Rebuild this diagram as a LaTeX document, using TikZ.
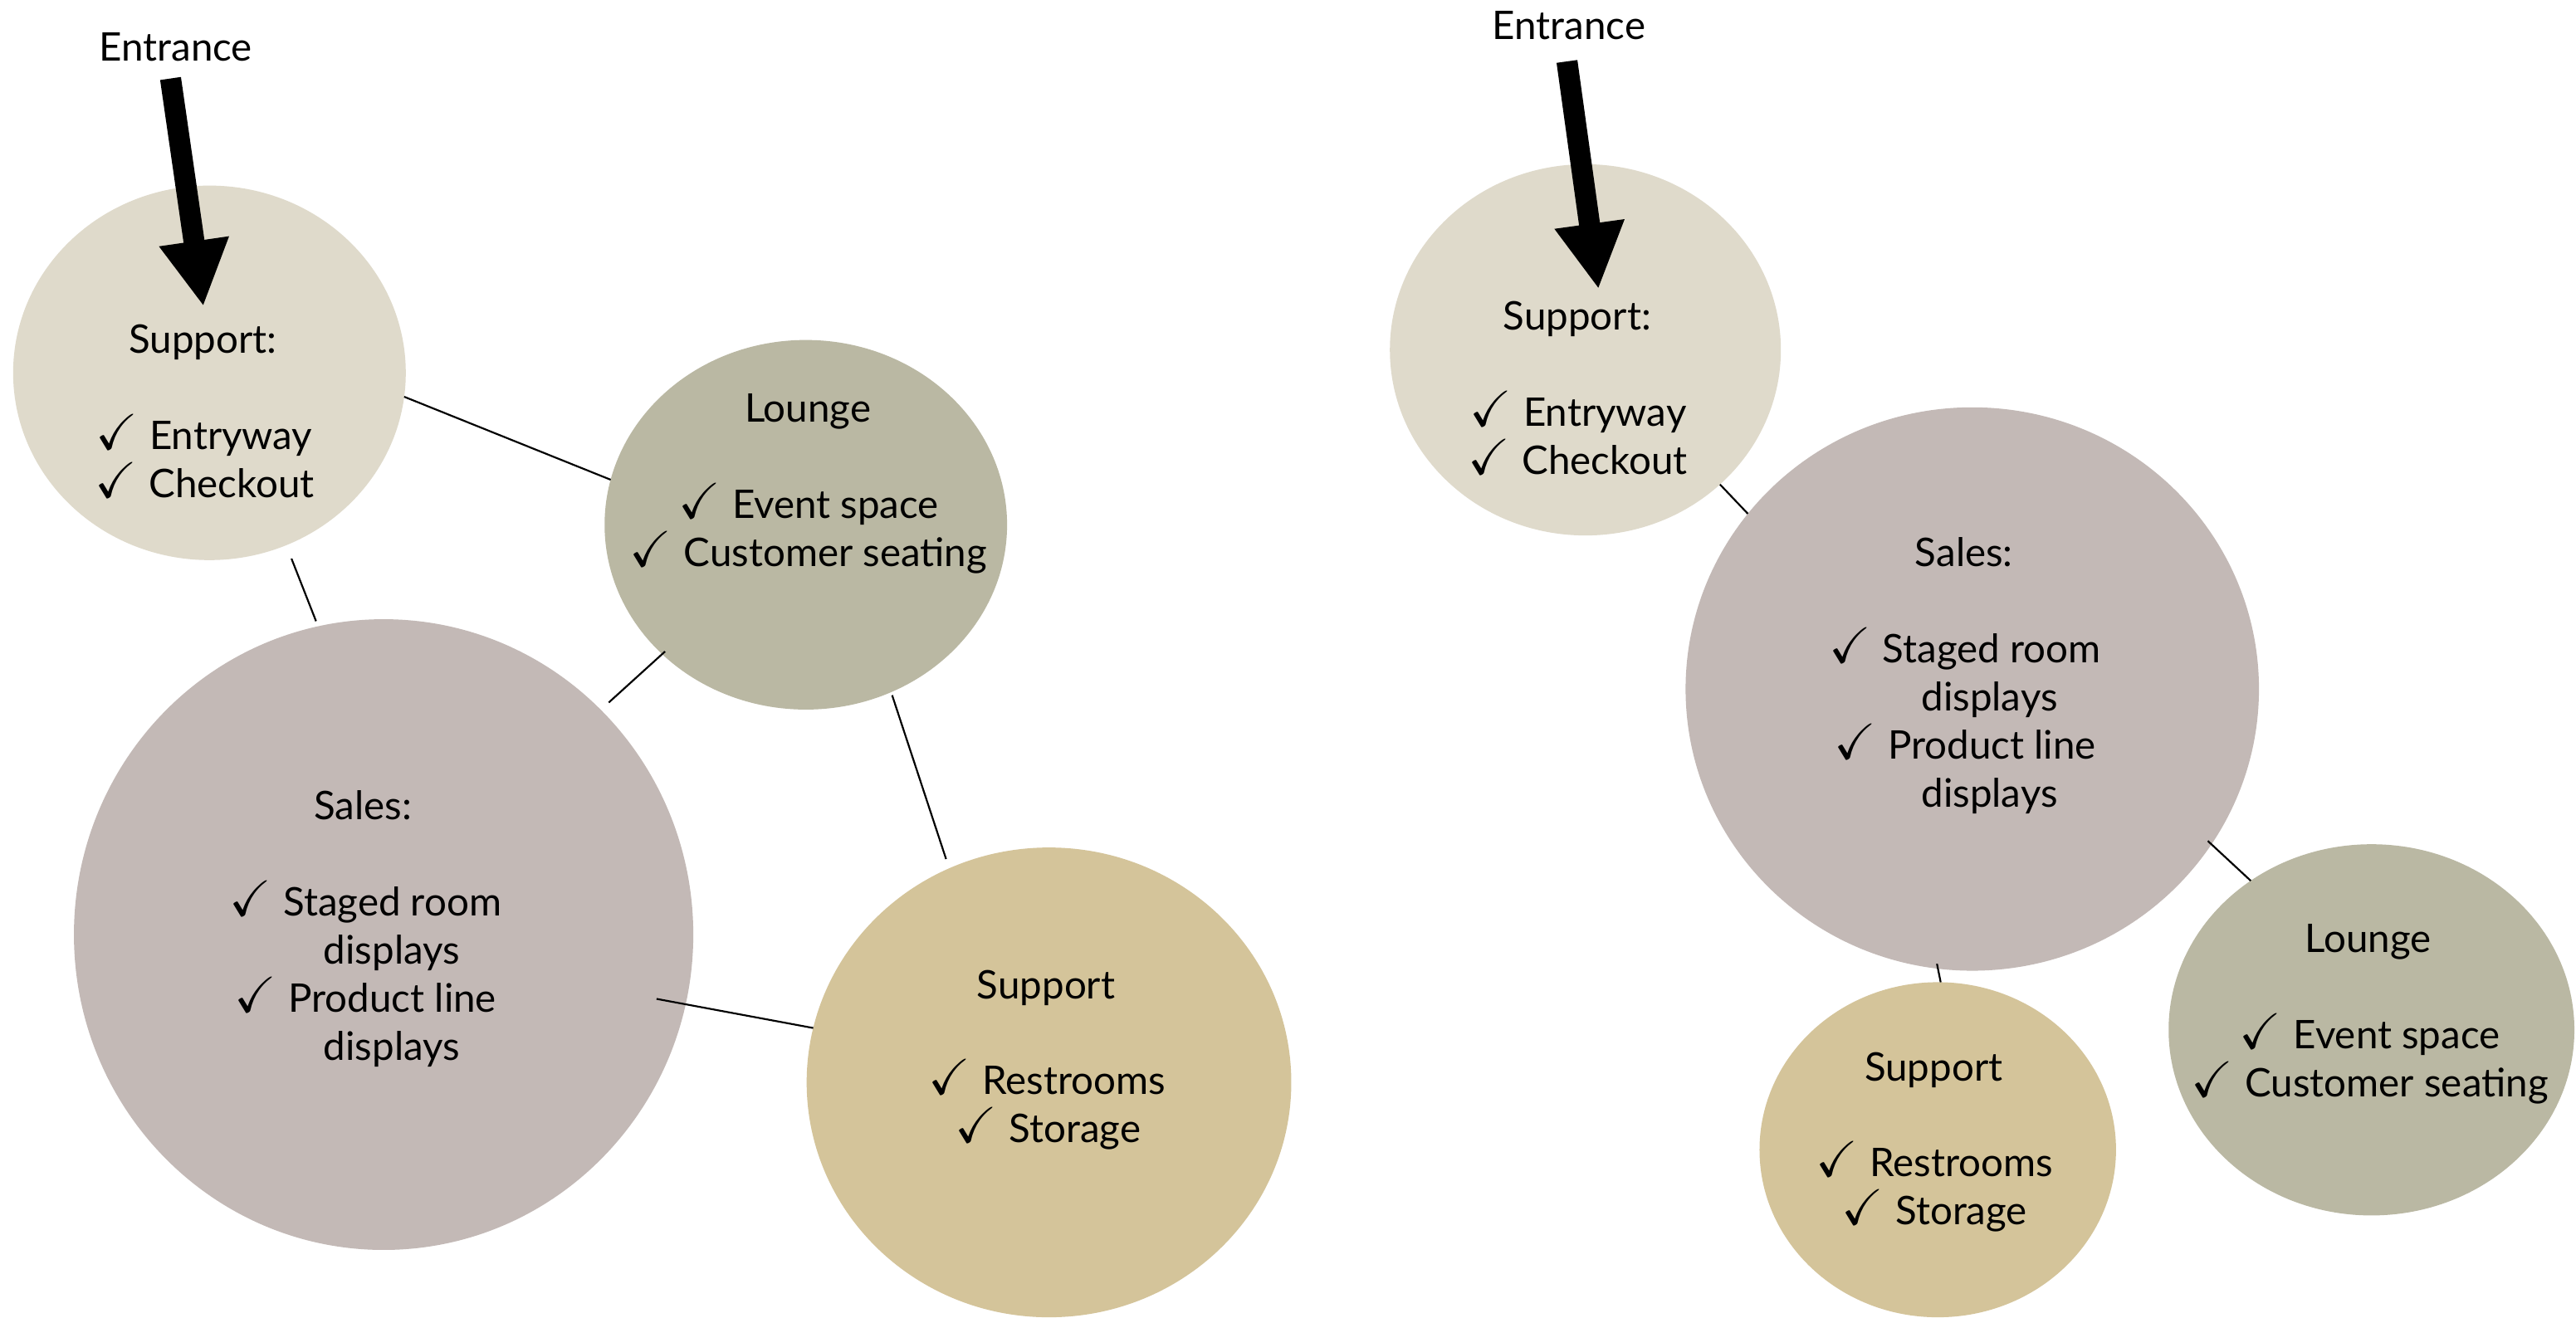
\documentclass[tikz,border=0pt]{standalone}
\usepackage{amssymb}
\usepackage{graphicx}
\usepackage{fontspec}
\setmainfont{Lato}
\usetikzlibrary{shapes.geometric,arrows.meta}
\definecolor{supcol}{RGB}{223,218,203}
\definecolor{loungecol}{RGB}{186,184,163}
\definecolor{salescol}{RGB}{195,185,182}
\definecolor{storecol}{RGB}{212,196,154}
\newcommand{\chk}{\scalebox{1.28}{$\checkmark$}\hspace{0.3em}}
\tikzset{
  room/.style={ellipse, inner sep=0pt, outer sep=0pt, draw=none},
  txt/.style={inner sep=0pt, anchor=base, font=\fontsize{12}{14.5}\selectfont},
  link/.style={draw=black, line width=0.55pt},
  entryarrow/.style={line width=6.4pt, -{Triangle[width=20pt,length=20pt]}}
}
\begin{document}
\begin{tikzpicture}[x=0.5pt,y=-0.5pt]
\fill[white] (0,0) rectangle (1568,802);
\useasboundingbox (0,0) rectangle (1568,802);

% ---------- left layout ----------
\node[room, fill=supcol,    minimum width=119.5pt, minimum height=114pt] (supL) at (127.5,227) {};
\node[room, fill=loungecol, minimum width=122.5pt, minimum height=112.5pt] (lngL) at (490.5,319.5) {};
\node[room, fill=salescol,  minimum width=188.5pt, minimum height=192pt] (salL) at (233.5,569) {};
\node[room, fill=storecol,  minimum width=147.5pt, minimum height=143pt] (stoL) at (638.5,659) {};

\draw[link] (supL.-7.9) -- (lngL.167.3);
\draw[link, shorten <=4.4pt, shorten >=1.7pt] (supL.-66) -- (salL.102.1);
\draw[link, shorten <=3.3pt, shorten >=-1.2pt] (salL.46.4) -- (lngL.-138.7);
\draw[link, shorten <=1pt, shorten >=3pt] (lngL.-63.9) -- (stoL.115.7);
\draw[link, shorten <=-9pt] (salL.-13) -- (stoL.167);

\node[txt] (entL) at (107,37) {Entrance};
\node[txt] (supLa) at (123.5,215) {Support:};
\node[txt] (supLb) at (124.2,273.5) {\chk Entryway};
\node[txt] (supLc) at (124.7,302.8) {\chk Checkout};

\node[txt] (lngLa) at (491.8,257) {Lounge};
\node[txt] (lngLb) at (492.2,315.5) {\chk Event space};
\node[txt] (lngLc) at (492.2,344.8) {\chk Customer seating};

\node[txt] (salLa) at (221,499) {Sales:};
\node[txt] (salLb) at (222.5,557.5) {\chk Staged room};
\node[txt] (salLc) at (238.5,586.8) {displays};
\node[txt] (salLd) at (222.5,616.1) {\chk Product line};
\node[txt] (salLe) at (238.5,645.4) {displays};

\node[txt] (stoLa) at (636.7,608) {Support};
\node[txt] (stoLb) at (637.2,666.5) {\chk Restrooms};
\node[txt] (stoLc) at (638,695.8) {\chk Storage};

\coordinate (arrLtail) at (103.8,47.8);
\coordinate (arrLtip) at (123.8,186.5);
\draw[entryarrow] (arrLtail) -- (arrLtip);

% ---------- right layout ----------
\node[room, fill=supcol,    minimum width=119pt,   minimum height=113pt] (supR) at (965,213) {};
\node[room, fill=salescol,  minimum width=174.5pt, minimum height=171.5pt] (salR) at (1200.5,419.5) {};
\node[room, fill=storecol,  minimum width=108.5pt, minimum height=102pt] (stoR) at (1179.5,700) {};
\node[room, fill=loungecol, minimum width=123.5pt, minimum height=113pt] (lngR) at (1443.5,627) {};

\draw[link] (supR.-45.35) -- (salR.142.1);
\draw[link, shorten <=-1.5pt] (salR.-33.3) -- (lngR.129.6);
\draw[link, shorten <=-1.5pt] (salR.-97.6) -- (stoR.89.7);

\node[txt] (entR) at (955,23.8) {Entrance};
\node[txt] (supRa) at (960,201) {Support:};
\node[txt] (supRb) at (960.5,259.5) {\chk Entryway};
\node[txt] (supRc) at (960.5,288.8) {\chk Checkout};

\node[txt] (salRa) at (1195.5,345) {Sales:};
\node[txt] (salRb) at (1196,403.5) {\chk Staged room};
\node[txt] (salRc) at (1211,432.8) {displays};
\node[txt] (salRd) at (1196,462.1) {\chk Product line};
\node[txt] (salRe) at (1211,491.4) {displays};

\node[txt] (stoRa) at (1177,658) {Support};
\node[txt] (stoRb) at (1177.5,716.5) {\chk Restrooms};
\node[txt] (stoRc) at (1177.5,745.8) {\chk Storage};

\node[txt] (lngRa) at (1441.5,580) {Lounge};
\node[txt] (lngRb) at (1442.5,638.5) {\chk Event space};
\node[txt] (lngRc) at (1442.5,667.8) {\chk Customer seating};

\coordinate (arrRtail) at (953.8,37.4);
\coordinate (arrRtip) at (973,176);
\draw[entryarrow] (arrRtail) -- (arrRtip);
\end{tikzpicture}
\end{document}
